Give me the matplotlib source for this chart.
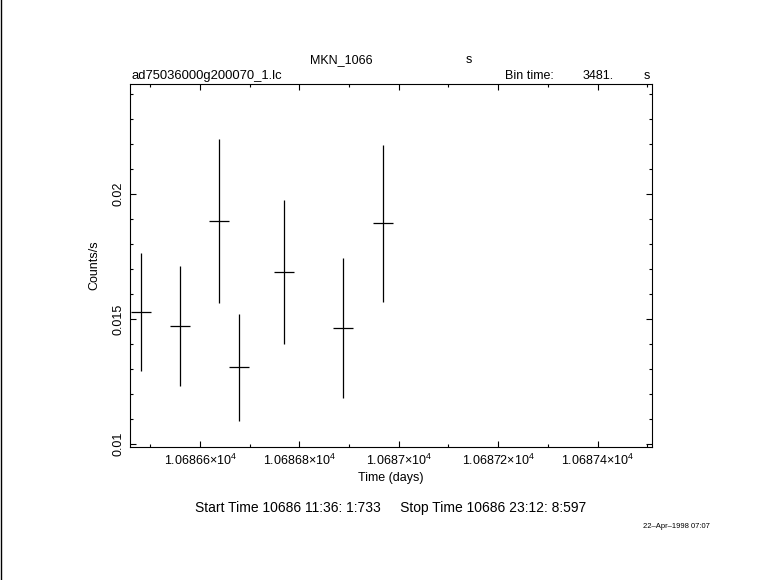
import matplotlib
matplotlib.use("Agg")
import matplotlib.pyplot as plt
from matplotlib.lines import Line2D
from matplotlib.ticker import FixedLocator, MultipleLocator

plt.rcParams['font.family'] = ['Liberation Sans', 'DejaVu Sans']
plt.rcParams['mathtext.fontset'] = 'custom'
plt.rcParams['mathtext.rm'] = 'Liberation Sans'
plt.rcParams['mathtext.default'] = 'regular'

# light curve, time in days, rate in counts/s
time_days = [10686.4807, 10686.5604, 10686.6388, 10686.6791,
             10686.7697, 10686.8884, 10686.9689]
rate = [0.015274, 0.014714, 0.018931, 0.013072, 0.016876, 0.014634, 0.018839]
rate_err = [0.00237, 0.00240, 0.00327, 0.00214, 0.00288, 0.00280, 0.00314]
bin_time_s = 3481.

xticks = [10686.6, 10686.8, 10687.0, 10687.2, 10687.4]
xtick_labels = [r'1.06866$\times$10$^{4}$', r'1.06868$\times$10$^{4}$',
                r'1.0687$\times$10$^{4}$', r'1.06872$\times$10$^{4}$',
                r'1.06874$\times$10$^{4}$']
yticks = [0.01, 0.015, 0.02]
ytick_labels = ['0.01', '0.015', '0.02']

fig = plt.figure(figsize=(7.81, 5.80), dpi=100)
ax = fig.add_axes([130 / 781, 1 - 447.3 / 580, (651.7 - 130) / 781, (447.3 - 84) / 580])

half_bin = bin_time_s / 86400. / 2
ax.errorbar(time_days, rate, xerr=half_bin, yerr=rate_err, fmt='none',
            ecolor='black', elinewidth=0.9, capsize=0)

ax.set_xlim(10686.459, 10687.509)
ax.set_ylim(0.009868, 0.024417)

ax.xaxis.set_major_locator(FixedLocator(xticks))
ax.set_xticklabels(xtick_labels)
ax.xaxis.set_minor_locator(MultipleLocator(0.1))
ax.yaxis.set_major_locator(FixedLocator(yticks))
ax.set_yticklabels(ytick_labels, rotation=90, va='center')
ax.yaxis.set_minor_locator(MultipleLocator(0.001))

ax.tick_params(which='both', direction='in', top=True, right=True,
               width=0.8, labelsize=9)
ax.tick_params(which='major', length=4.5)
ax.tick_params(which='minor', length=2.5)
ax.tick_params(axis='x', pad=4)
ax.tick_params(axis='y', pad=4)
for sp in ax.spines.values():
    sp.set_linewidth(0.8)

ax.set_xlabel('Time (days)', fontsize=9, labelpad=3)
ax.set_ylabel('Counts/s', fontsize=9, labelpad=9)

# header texts
fig.text(341 / 781, 1 - 60 / 580, 'MKN_1066', ha='center', va='center', fontsize=9)
fig.text(469 / 781, 1 - 60 / 580, 's', ha='center', va='center', fontsize=9)
fig.text(131 / 781, 1 - 76 / 580, 'ad75036000g200070_1.lc', ha='left', va='center', fontsize=9.4)
fig.text(505 / 781, 1 - 76 / 580, 'Bin time:', ha='left', va='center', fontsize=9)
fig.text(583 / 781, 1 - 76 / 580, '3481.', ha='left', va='center', fontsize=9)
fig.text(647 / 781, 1 - 76 / 580, 's', ha='center', va='center', fontsize=9)

fig.text(391 / 781, 1 - 508 / 580,
         'Start Time 10686 11:36: 1:733     Stop Time 10686 23:12: 8:597',
         ha='center', va='center', fontsize=10)
fig.text(643 / 781, 1 - 526 / 580, '22\u2013Apr\u20131998 07:07',
         ha='left', va='center', fontsize=5.5)

fig.add_artist(Line2D([0.5 / 781, 0.5 / 781], [0, 1], color='black', linewidth=1))

fig.savefig('out.png', dpi=100)
